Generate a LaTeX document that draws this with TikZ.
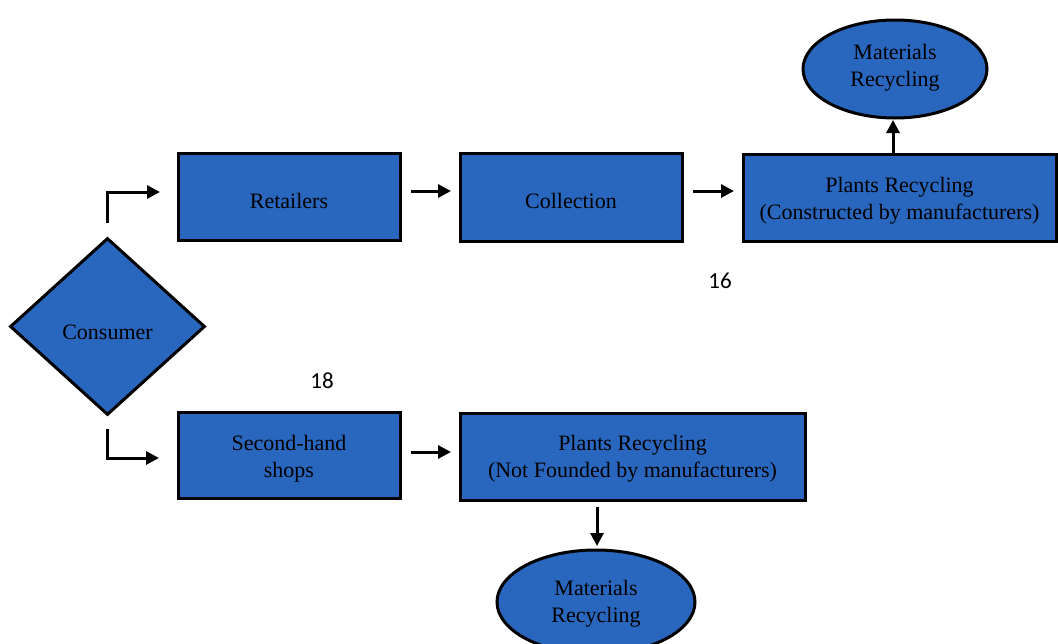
\documentclass[tikz,border=0pt]{standalone}
\usepackage{fontspec}
\setmainfont{Liberation Serif}
\newfontfamily\numfont{Carlito}
\usetikzlibrary{shapes.geometric,arrows.meta}
\definecolor{boxblue}{RGB}{41,102,190}
\tikzset{
  shp/.style={draw=black, line width=3pt, fill=boxblue, inner sep=0pt},
  box/.style={shp, rectangle},
  oval/.style={shp, ellipse},
  dia/.style={shp, diamond},
  txt/.style={inner sep=0pt, align=center, font=\fontsize{22}{27}\selectfont},
  arr/.style={line width=3pt, -{Triangle[length=13pt,width=13pt]}},
  num/.style={font=\numfont\fontsize{23}{26}\selectfont}
}
\begin{document}
\begin{tikzpicture}[x=1pt,y=-1pt]
\useasboundingbox (0,0) rectangle (1058,643);
\node[box, minimum width=222pt, minimum height=87pt,
  label={[txt,yshift=-4pt]center:{Retailers}}] (ret) at (289,196.5) {};
\node[box, minimum width=222pt, minimum height=88pt,
  label={[txt,yshift=-4pt]center:{Collection}}] (col) at (571,197) {};
\node[box, minimum width=313pt, minimum height=87pt,
  label={[txt,yshift=-3pt]center:{Plants Recycling\\(Constructed by manufacturers)}}] (pt) at (899.5,197.5) {};
\node[oval, minimum width=184pt, minimum height=98pt,
  label={[txt,yshift=1.5pt]center:{Materials\\Recycling}}] (et) at (895,69) {};
\node[dia, minimum width=195pt, minimum height=177pt,
  label={[txt,yshift=-6pt]center:{Consumer}}] (con) at (107.5,326.5) {};
\node[box, minimum width=222pt, minimum height=86pt,
  label={[txt,yshift=-3pt]center:{Second-hand\\shops}}] (sh) at (289,455.5) {};
\node[box, minimum width=345pt, minimum height=87pt,
  label={[txt,yshift=-2pt]center:{Plants Recycling\\(Not Founded by manufacturers)}}] (pb) at (632.5,456.5) {};
\node[oval, minimum width=198pt, minimum height=104pt,
  label={[txt,yshift=-2pt]center:{Materials\\Recycling}}] (eb) at (596,602) {};
\node[num] (n16) at (720,281) {16};
\node[num] (n18) at (322,381) {18};
% connector end points
\coordinate (a1) at (107,223);
\coordinate (a1e) at (160,192);
\coordinate (a2) at (107,429);
\coordinate (a2e) at (159,458);
\coordinate (b1) at (411,191);
\coordinate (b1e) at (451,191);
\coordinate (b2) at (693,191);
\coordinate (b2e) at (734,191);
\coordinate (b3) at (893,154);
\coordinate (b3e) at (893,120);
\coordinate (c1) at (411,452);
\coordinate (c1e) at (451,452);
\coordinate (c2) at (597,507);
\coordinate (c2e) at (597,546);
\draw[arr] (a1) |- (a1e);
\draw[arr] (a2) |- (a2e);
\draw[arr] (b1) -- (b1e);
\draw[arr] (b2) -- (b2e);
\draw[arr] (b3) -- (b3e);
\draw[arr] (c1) -- (c1e);
\draw[arr] (c2) -- (c2e);
\end{tikzpicture}
\end{document}
